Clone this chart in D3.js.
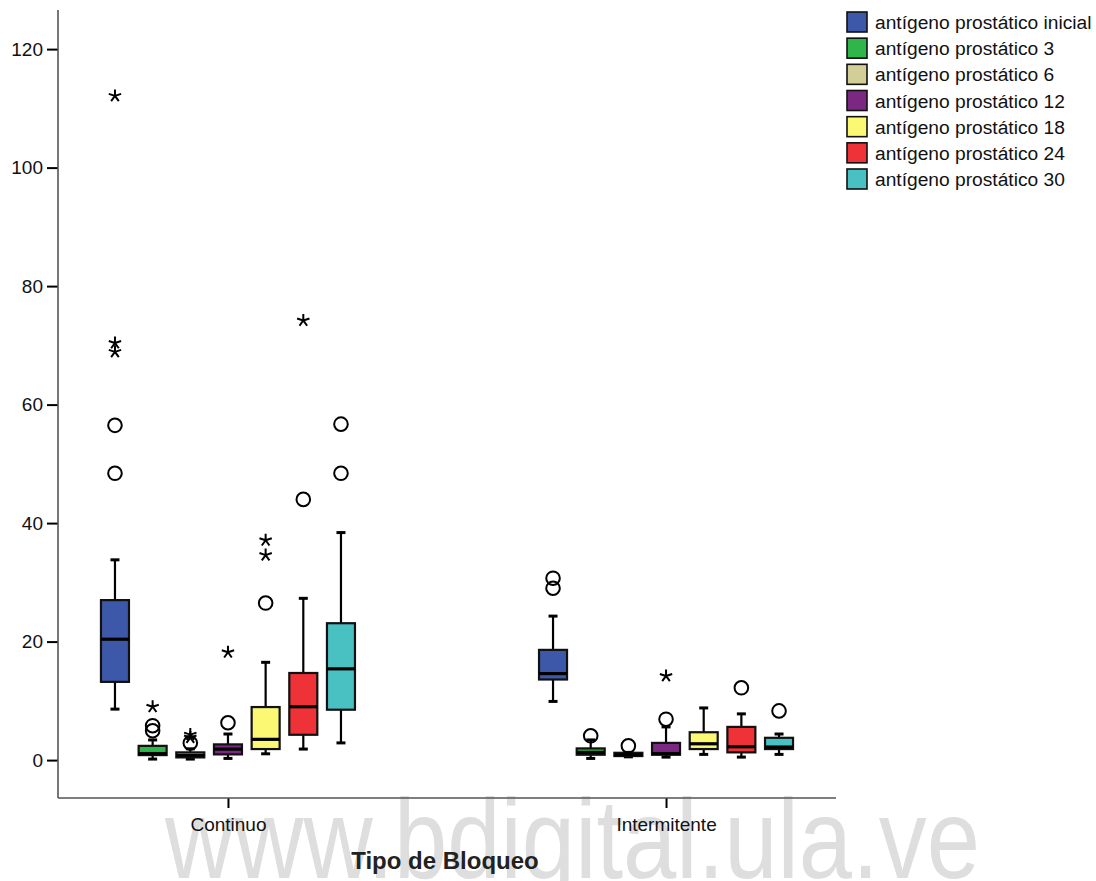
<!DOCTYPE html>
<html>
<head>
<meta charset="utf-8">
<script src="https://cdn.jsdelivr.net/npm/d3@7/dist/d3.min.js"></script>
<style>
  html, body { margin: 0; padding: 0; background: #fff; }
  svg text { font-family: "Liberation Sans", Arial, sans-serif; }
</style>
</head>
<body>
<svg id="chart" width="1096" height="881"></svg>
<script>
// ---------------- data ----------------
const groups = ["Continuo", "Intermitente"];
const seriesNames = [
  "antígeno prostático inicial",
  "antígeno prostático 3",
  "antígeno prostático 6",
  "antígeno prostático 12",
  "antígeno prostático 18",
  "antígeno prostático 24",
  "antígeno prostático 30"
];
const yTicks = [0, 20, 40, 60, 80, 100, 120];

// [lower whisker, Q1, median, Q3, upper whisker] per series
const continuoStats = [
  [8.6, 13.2, 20.4, 27.0, 33.8],
  [0.17, 0.84, 1.1, 2.4, 3.4],
  [0.17, 0.45, 0.8, 1.3, 1.9],
  [0.28, 0.96, 1.85, 2.65, 4.4],
  [1.06, 1.86, 3.5, 8.95, 16.5],
  [1.86, 4.27, 9.0, 14.7, 27.3],
  [2.9, 8.5, 15.4, 23.1, 38.4]
];
const continuoCircles = [[56.5, 48.4], [5.8, 4.95], [2.9], [6.3], [26.5], [44.0], [56.7, 48.4]];
const continuoStars = [[112.1, 70.4, 68.9], [9.0], [4.3, 3.8], [18.2], [37.1, 34.6], [74.2], []];

const intermitenteStats = [
  [9.9, 13.6, 14.6, 18.6, 24.3],
  [0.28, 0.9, 1.3, 1.97, 3.4],
  [0.55, 0.68, 0.9, 1.23, 1.3],
  [0.5, 0.9, 1.1, 2.9, 5.6],
  [0.96, 1.86, 2.75, 4.7, 8.8],
  [0.5, 1.3, 2.25, 5.6, 7.8],
  [0.96, 1.86, 2.2, 3.76, 4.4]
];
const intermitenteCircles = [[30.7, 29.0], [4.1], [2.4], [6.9], [], [12.2], [8.3]];
const intermitenteStars = [[], [], [], [14.2], [], [], []];

// ---------------- styles ----------------
const colors = ["#3e58a9", "#2fb54a", "#d3ce97", "#7b2883", "#fbf873", "#ef3237", "#49c1c3"];

const svg = d3.select("#chart");
const plot = { left: 58, right: 836, top: 10, bottom: 798 };

// watermark
svg.append("text")
  .attr("x", 165).attr("y", 878)
  .attr("font-size", 113)
  .attr("textLength", 815)
  .attr("lengthAdjust", "spacingAndGlyphs")
  .attr("fill", "#dedede")
  .text("www.bdigital.ula.ve");

const y = d3.scaleLinear().domain([-6.4, 126.6]).range([plot.bottom, plot.top]);
const x = d3.scalePoint().domain(groups).range([plot.left, plot.right]).padding(0.388);
const xs = d3.scalePoint().domain(seriesNames).range([-113, 113]);
const boxW = 28, capW = 9;

// axes
const yAxis = d3.axisLeft(y).tickValues(yTicks).tickSize(11).tickPadding(4);
const gy = svg.append("g").attr("transform", `translate(${plot.left},0)`).call(yAxis);
gy.select(".domain").remove();
gy.selectAll(".tick line").attr("stroke", "#000").attr("stroke-width", 2);
gy.selectAll(".tick text").attr("font-size", 19).attr("fill", "#111")
  .style("font-family", '"Liberation Sans", Arial, sans-serif');

const xAxis = d3.axisBottom(x).tickSize(10).tickPadding(10);
const gx = svg.append("g").attr("transform", `translate(0,${plot.bottom})`).call(xAxis);
gx.select(".domain").remove();
gx.selectAll(".tick line").attr("stroke", "#000").attr("stroke-width", 2);
gx.selectAll(".tick text").attr("font-size", 19).attr("fill", "#111")
  .style("font-family", '"Liberation Sans", Arial, sans-serif');

svg.append("line").attr("x1", plot.left).attr("x2", plot.left)
  .attr("y1", plot.top).attr("y2", plot.bottom)
  .attr("stroke", "#555").attr("stroke-width", 1.6);
svg.append("line").attr("x1", plot.left).attr("x2", plot.right)
  .attr("y1", plot.bottom).attr("y2", plot.bottom)
  .attr("stroke", "#555").attr("stroke-width", 1.6);

// axis title
svg.append("text")
  .attr("x", 445).attr("y", 869)
  .attr("text-anchor", "middle")
  .attr("font-size", 24).attr("font-weight", "bold").attr("fill", "#222")
  .text("Tipo de Bloqueo");

// boxes
const groupData = [
  { g: groups[0], stats: continuoStats, circles: continuoCircles, stars: continuoStars },
  { g: groups[1], stats: intermitenteStats, circles: intermitenteCircles, stars: intermitenteStars }
];

function starPath(r) {
  let p = "";
  for (let k = 0; k < 5; k++) {
    const a = -Math.PI / 2 + k * 2 * Math.PI / 5;
    p += `M0,0L${(r * Math.cos(a)).toFixed(2)},${(r * Math.sin(a)).toFixed(2)}`;
  }
  return p;
}

groupData.forEach(gd => {
  const gx0 = x(gd.g);
  seriesNames.forEach((s, i) => {
    const cx = gx0 + xs(s);
    const [lo, q1, med, q3, hi] = gd.stats[i];
    const g = svg.append("g");
    g.append("line").attr("x1", cx).attr("x2", cx).attr("y1", y(hi)).attr("y2", y(q3))
      .attr("stroke", "#000").attr("stroke-width", 2.2);
    g.append("line").attr("x1", cx).attr("x2", cx).attr("y1", y(q1)).attr("y2", y(lo))
      .attr("stroke", "#000").attr("stroke-width", 2.2);
    [hi, lo].forEach(v => {
      g.append("line").attr("x1", cx - capW / 2).attr("x2", cx + capW / 2)
        .attr("y1", y(v)).attr("y2", y(v))
        .attr("stroke", "#000").attr("stroke-width", 3);
    });
    g.append("rect").attr("x", cx - boxW / 2).attr("width", boxW)
      .attr("y", y(q3)).attr("height", Math.max(0.5, y(q1) - y(q3)))
      .attr("fill", colors[i]).attr("stroke", "#111").attr("stroke-width", 2.2);
    g.append("line").attr("x1", cx - boxW / 2).attr("x2", cx + boxW / 2)
      .attr("y1", y(med)).attr("y2", y(med))
      .attr("stroke", "#000").attr("stroke-width", 3.2);
    gd.circles[i].forEach(v => {
      g.append("circle").attr("cx", cx).attr("cy", y(v)).attr("r", 6.8)
        .attr("fill", "none").attr("stroke", "#000").attr("stroke-width", 2);
    });
    gd.stars[i].forEach(v => {
      g.append("path").attr("transform", `translate(${cx},${y(v)})`)
        .attr("d", starPath(6.5))
        .attr("fill", "none").attr("stroke", "#000").attr("stroke-width", 2);
    });
  });
});

// legend
const legend = svg.append("g");
const ly = d3.scalePoint().domain(seriesNames).range([22, 179]);
seriesNames.forEach((s, i) => {
  legend.append("rect").attr("x", 847).attr("y", ly(s) - 10).attr("width", 20).attr("height", 20)
    .attr("fill", colors[i]).attr("stroke", "#111").attr("stroke-width", 1.6);
  legend.append("text").attr("x", 875).attr("y", ly(s) + 7)
    .attr("font-size", 19.2).attr("fill", "#111").text(s);
});
</script>
</body>
</html>
